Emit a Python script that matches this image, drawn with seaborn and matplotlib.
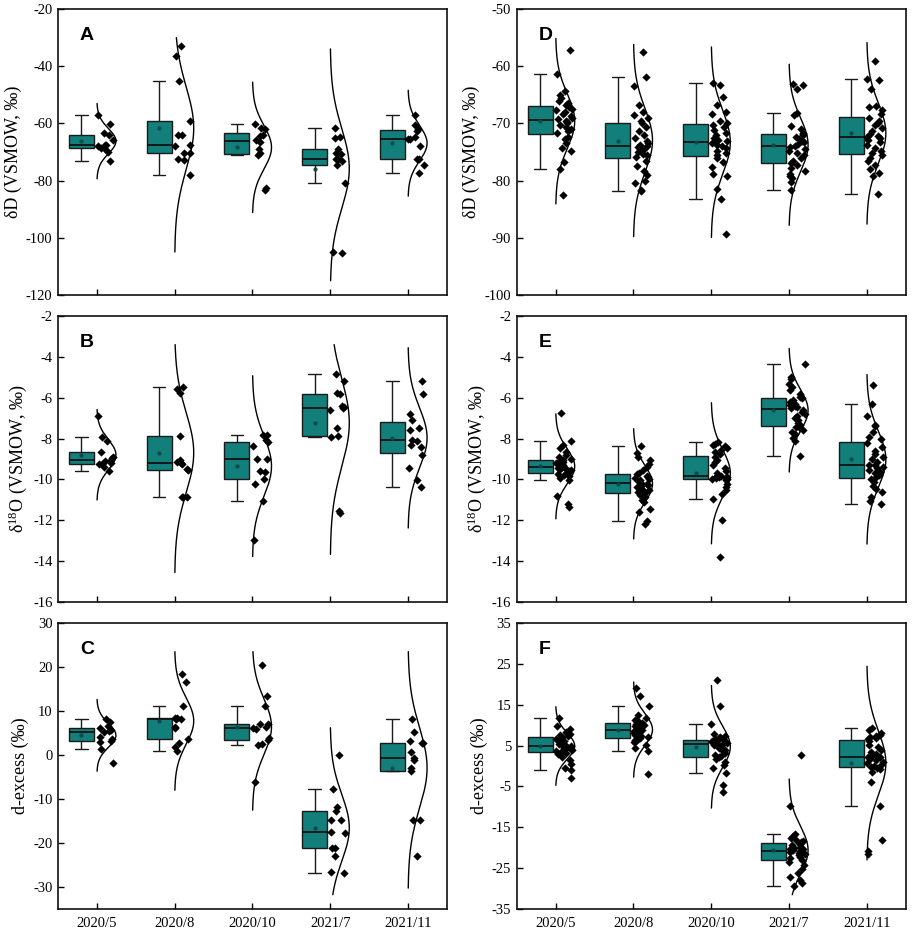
import numpy as np
import pandas as pd
import matplotlib
matplotlib.use("Agg")
import matplotlib.pyplot as plt
import seaborn as sns

# sampling campaigns
months = ["2020/5", "2020/8", "2020/10", "2021/7", "2021/11"]

# left column (A, B, C) - one value list per campaign
dD_1 = [
    [-57, -60.3, -63.5, -64, -65.8, -67.5, -67.5, -68, -68.5, -69, -70, -73],
    [-33, -36.4, -45, -59.3, -64.2, -64.2, -67.6, -68, -70.3, -70.5, -72.3, -72.9, -78.2],
    [-60.1, -61.5, -62, -63.9, -64.5, -65.8, -66.5, -68.8, -70.5, -71, -82.6, -83.2],
    [-61.5, -64.6, -65, -69, -70.3, -70.8, -72.4, -72.6, -73, -74.6, -80.8, -105, -105.4],
    [-57.2, -60.7, -62.1, -62.5, -64.7, -65.3, -65.5, -68, -72.3, -72.6, -74.6, -77.5],
]
d18O_1 = [
    [-6.91, -7.92, -8.12, -8.66, -8.9, -8.95, -9.06, -9.1, -9.2, -9.23, -9.25, -9.39, -9.59],
    [-5.5, -5.55, -5.75, -7.87, -9.06, -9.15, -9.2, -9.25, -9.49, -9.55, -10.86, -10.87, -10.88],
    [-7.81, -7.83, -8.05, -8.17, -8.36, -8.98, -9.0, -9.59, -9.62, -9.96, -10.2, -11.05, -12.95],
    [-4.82, -5.2, -5.77, -5.8, -6.42, -6.45, -6.5, -6.58, -7.48, -7.89, -7.9, -11.56, -11.62],
    [-5.2, -5.8, -6.78, -7.1, -7.5, -7.6, -8.05, -8.1, -8.33, -8.41, -8.82, -9.42, -10.04, -10.37],
]
dex_1 = [
    [-1.8, 1.3, 2.9, 3.2, 3.6, 4.1, 5.2, 5.4, 5.8, 6.1, 6.5, 7.6, 8.3],
    [1.0, 1.8, 2.7, 3.7, 6.1, 6.3, 8.1, 8.1, 8.4, 8.4, 11.2, 16.5, 18.4],
    [-6.2, 2.3, 2.4, 3.5, 3.9, 6.0, 6.2, 6.3, 7.0, 7.1, 11.1, 13.5, 20.5],
    [-26.8, -26.6, -23, -21.1, -21.1, -17.7, -17.4, -14.7, -14.7, -12.7, -11.7, -7.7, 0.05],
    [-23, -14.7, -14.7, -3.7, -2.9, -1.2, -0.7, 0.8, 2.8, 2.8, 3.1, 5.3, 8.2],
]

# right column (D, E, F)
dD_2 = [
    [-82.5, -78, -76.8, -74.9, -74.3, -73.5, -72.7, -72.3, -71.7, -71.3, -71, -70.6, -70.3, -70, -69.8, -69.5,
     -69.3, -69, -68.7, -68.4, -68, -67.7, -67.4, -67.1, -66.8, -66.5, -66, -65.5, -65, -64.3, -61.3, -57.2],
    [-81.9, -81.6, -80.5, -80, -79, -78.3, -77.5, -76.5, -75.8, -75.5, -75.3, -75, -74.7, -74.4, -74.2, -74.0,
     -73.8, -73.5, -73, -72.5, -72, -71.3, -70.7, -70.0, -69.6, -69, -68.5, -68, -66.8, -63.5, -61.8, -57.5],
    [-89.3, -83.2, -81.4, -79.2, -78.8, -77.6, -76.8, -76.0, -75.6, -75.2, -74.8, -74.3, -74, -73.8, -73.5, -73.3,
     -73.1, -72.9, -72.5, -72, -71.6, -71.1, -70.6, -70.2, -70, -69.5, -68.4, -68, -66.8, -65.3, -63.2, -63],
    [-81.6, -80.3, -79.5, -79.2, -78.8, -78.3, -77.8, -77.3, -76.9, -76.5, -76, -75.6, -75.2, -74.8, -74.4, -74.1,
     -73.9, -73.6, -73.3, -73, -72.7, -72.4, -72.1, -71.9, -71.6, -71, -70.5, -68.6, -68.1, -64, -63.2, -63.1],
    [-82.3, -79.2, -78.6, -78, -77.2, -76.6, -76, -75.6, -75.2, -74.8, -74.3, -73.8, -73.3, -72.9, -72.6, -72.4,
     -72.2, -71.8, -71.3, -70.8, -70.3, -69.9, -69.5, -69.0, -68.4, -67.6, -67.1, -67, -64, -62.4, -62.3, -59],
]
d18O_2 = [
    [-11.35, -11.2, -10.8, -10.05, -9.95, -9.85, -9.78, -9.72, -9.65, -9.6, -9.56, -9.52, -9.48, -9.45, -9.42, -9.4,
     -9.38, -9.35, -9.3, -9.25, -9.2, -9.15, -9.1, -9.05, -9.0, -8.9, -8.8, -8.65, -8.45, -8.3, -8.12, -6.75],
    [-12.2, -12.03, -11.6, -11.45, -11.1, -11.0, -10.85, -10.75, -10.65, -10.6, -10.5, -10.45, -10.38, -10.3, -10.25, -10.2,
     -10.18, -10.12, -10.05, -10.0, -9.95, -9.9, -9.82, -9.75, -9.68, -9.55, -9.4, -9.25, -9.05, -8.9, -8.7, -8.35],
    [-13.8, -12.0, -10.97, -10.7, -10.5, -10.35, -10.2, -10.05, -9.98, -9.97, -9.95, -9.93, -9.9, -9.88, -9.86, -9.84,
     -9.82, -9.7, -9.6, -9.45, -9.3, -9.15, -9.05, -8.9, -8.75, -8.65, -8.55, -8.45, -8.38, -8.32, -8.25, -8.18],
    [-8.85, -8.1, -7.95, -7.8, -7.7, -7.6, -7.5, -7.45, -7.35, -7.25, -7.1, -7.0, -6.9, -6.8, -6.7, -6.58,
     -6.5, -6.45, -6.4, -6.35, -6.3, -6.2, -6.1, -6.02, -5.95, -5.8, -5.6, -5.5, -5.35, -5.1, -5.0, -4.35],
    [-11.2, -11.05, -10.85, -10.6, -10.45, -10.3, -10.15, -10.0, -9.9, -9.8, -9.7, -9.62, -9.55, -9.45, -9.38, -9.3,
     -9.28, -9.15, -9.0, -8.9, -8.75, -8.6, -8.4, -8.2, -8.0, -7.9, -7.7, -7.4, -7.35, -6.9, -6.32, -5.4],
]
dex_2 = [
    [-3.0, -0.9, -0.5, 0.4, 1.5, 2.3, 2.9, 3.3, 3.5, 3.7, 3.9, 4.1, 4.3, 4.5, 4.7, 4.85,
     4.95, 5.2, 5.5, 5.8, 6.1, 6.4, 6.7, 7.0, 7.3, 7.5, 7.8, 8.1, 8.3, 9.0, 9.8, 11.7],
    [-1.9, 3.7, 4.5, 5.2, 5.8, 6.2, 6.4, 6.6, 6.8, 7.0, 7.3, 7.6, 7.9, 8.2, 8.5, 8.7,
     8.9, 9.2, 9.5, 9.8, 10.0, 10.2, 10.4, 10.55, 10.8, 11.0, 11.3, 11.8, 12.5, 14.6, 17.2, 19.0],
    [-6.25, -4.7, -1.8, -0.4, 0.3, 1.0, 1.7, 2.1, 2.4, 2.8, 3.2, 3.6, 4.0, 4.4, 4.8, 5.2,
     5.4, 5.5, 5.7, 5.8, 6.0, 6.1, 6.3, 6.45, 6.6, 6.8, 7.0, 7.3, 7.8, 10.2, 14.6, 21.0],
    [-29.3, -28.6, -28.0, -27.2, -26.3, -25.3, -24.3, -23.4, -23.0, -22.6, -22.2, -21.8, -21.5, -21.2, -21.0, -20.8,
     -20.6, -20.4, -20.2, -20.0, -19.7, -19.4, -19.2, -19.0, -18.7, -18.4, -18.0, -17.6, -17.2, -16.7, -9.8, 2.6],
    [-21.5, -20.7, -18.0, -9.8, -3.8, -1.5, -0.8, -0.5, -0.3, 0.0, 0.3, 0.7, 1.1, 1.5, 1.8, 2.1,
     2.3, 2.6, 3.0, 3.4, 4.0, 4.6, 5.2, 6.2, 6.5, 6.8, 7.1, 7.4, 7.6, 8.0, 8.7, 9.2],
]

label_dD = "δD (VSMOW, ‰)"
label_d18O = "δ$^{18}$O (VSMOW, ‰)"
label_dex = "d-excess (‰)"

TEAL = "#127f7b"

sns.set_style("ticks")
plt.rcParams["font.family"] = ["Liberation Serif", "DejaVu Serif"]
plt.rcParams["mathtext.default"] = "regular"
for key in ["text.color", "axes.labelcolor", "xtick.color", "ytick.color", "axes.edgecolor"]:
    plt.rcParams[key] = "black"

def long_table(groups):
    '''table longue : position de la campagne + valeur'''
    rows = []
    for i, vals in enumerate(groups):
        for v in vals:
            rows.append({"pos": i, "value": v})
    return pd.DataFrame(rows)

def draw_panel(ax, groups, ylim, yticks, ylabel, letter, show_x):
    df = long_table(groups)
    df["box_pos"] = df["pos"] - 0.2
    df["pt_pos"] = df["pos"] + 0.105

    sns.boxplot(data=df, x="box_pos", y="value", orient="x", native_scale=True,
                width=0.32, whis=1.5, showfliers=False, showmeans=True,
                color=TEAL, saturation=1, linecolor="#1a1a1a", linewidth=1.0,
                medianprops=dict(color="#111111", linewidth=1.3),
                meanprops=dict(marker="o", markersize=2.0, markerfacecolor="#0a4a47",
                               markeredgecolor="#0a4a47"),
                ax=ax)
    sns.stripplot(data=df, x="pt_pos", y="value", orient="x", native_scale=True,
                  jitter=0.105, marker="D", size=4.2, color="black", linewidth=0,
                  ax=ax)

    # courbe normale (moyenne / écart-type) partant de l'axe de la campagne
    for i, vals in enumerate(groups):
        m = np.mean(vals)
        s = np.std(vals, ddof=1)
        lo = max(m - 3 * s, ylim[0] + 0.05 * (ylim[1] - ylim[0]))
        hi = min(m + 3 * s, ylim[1] - 0.1 * (ylim[1] - ylim[0]))
        yy = np.linspace(lo, hi, 300)
        xx = i + 0.245 * np.exp(-0.5 * ((yy - m) / s) ** 2)
        ax.plot(xx, yy, color="black", linewidth=1.0)

    ax.set_xlim(-0.5, 4.5)
    ax.set_ylim(*ylim)
    ax.set_xticks(range(len(months)))
    ax.set_yticks(yticks)
    ax.set_yticklabels([f"{t:g}" for t in yticks])
    if show_x:
        ax.set_xticklabels(months)
    else:
        ax.set_xticklabels([])
    ax.set_xlabel("")
    ax.set_ylabel(ylabel, fontsize=13, labelpad=3)
    ax.tick_params(direction="in", length=4, width=1.0, labelsize=10.5, pad=4, colors="black")
    ax.tick_params(axis="x", pad=6)
    for sp in ax.spines.values():
        sp.set_visible(True)
        sp.set_linewidth(1.2)
        sp.set_color("#111111")
    ax.text(0.056, 0.892, letter, transform=ax.transAxes, fontsize=14, color="black",
            fontweight="bold", family="Liberation Sans", ha="left", va="baseline")


fig = plt.figure(figsize=(9.13, 9.33), dpi=100)
lefts = [0.0635, 0.566]
width = 0.426
bottoms = [0.6838, 0.3548, 0.0257]
height = 0.3065

panels = [
    (0, 0, dD_1, (-120, -20), np.arange(-120, -19, 20), label_dD, "A", False),
    (0, 1, d18O_1, (-16, -2), np.arange(-16, -1, 2), label_d18O, "B", False),
    (0, 2, dex_1, (-35, 30), np.arange(-30, 31, 10), label_dex, "C", True),
    (1, 0, dD_2, (-100, -50), np.arange(-100, -49, 10), label_dD, "D", False),
    (1, 1, d18O_2, (-16, -2), np.arange(-16, -1, 2), label_d18O, "E", False),
    (1, 2, dex_2, (-35, 35), np.arange(-35, 36, 10), label_dex, "F", True),
]

np.random.seed(7)
for col, row, groups, ylim, yticks, ylabel, letter, show_x in panels:
    ax = fig.add_axes([lefts[col], bottoms[row], width, height])
    draw_panel(ax, groups, ylim, yticks, ylabel, letter, show_x)

fig.savefig("out.png", dpi=100)
